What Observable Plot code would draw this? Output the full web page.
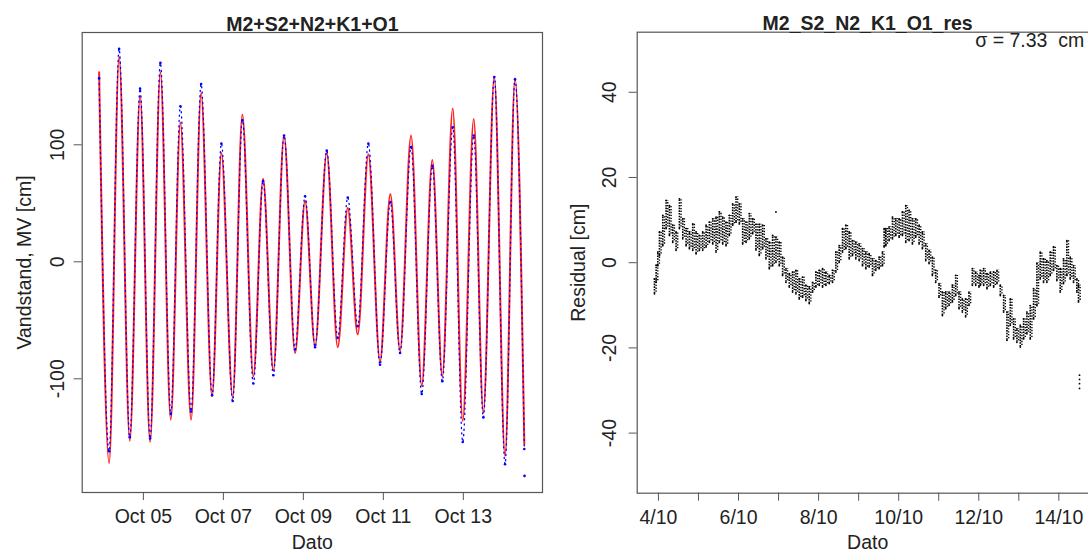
<!DOCTYPE html>
<html><head><meta charset="utf-8">
<script src="https://cdn.jsdelivr.net/npm/d3@7"></script>
<script src="https://cdn.jsdelivr.net/npm/@observablehq/plot@0.6"></script>
<style>
html,body{margin:0;padding:0;background:#fff;overflow:hidden;}
#wrap{position:relative;width:1088px;height:556px;overflow:hidden;background:#fff;}
#left,#right{position:absolute;top:0;}
#left{left:0;width:560px}
#right{left:560px;width:549.6px}
#wrap svg{max-width:none !important;}
</style></head><body>
<div id="wrap"><div id="left"></div><div id="right"></div></div>
<script>
// ---------- data (days are day-of-October, decimal) ----------
const leftTitle = "M2+S2+N2+K1+O1";
const rightTitle = "M2_S2_N2_K1_O1_res";
const leftYLabel = "Vandstand, MV [cm]";
const rightYLabel = "Residual [cm]";
const xLabel = "Dato";
const sigmaText = "σ = 7.33 \u00a0cm";

const leftYTicks = [-100, 0, 100];
const rightYTicks = [-40, -20, 0, 20, 40];
const leftXTickDays = [5, 7, 9, 11, 13];
const rightXTickDays = [4, 5, 6, 7, 8, 9, 10, 11, 12, 13, 14];

// high waters
const hwDay  = [3.893, 4.393, 4.918, 5.425, 5.925, 6.443, 6.95, 7.475, 7.993, 8.518, 9.043, 9.585, 10.11, 10.625, 11.175, 11.693, 12.225, 12.735, 13.26, 13.775, 14.293];
const hwPred = [162, 175, 142, 162, 119, 144, 93, 126, 71, 108, 52, 93, 46, 92, 58, 108, 87, 131, 122, 158, 157];
const hwObs  = [157, 182, 148, 170, 133, 152, 101, 121, 69, 108, 56, 95, 55, 101, 51, 98, 82, 115, 108, 158, 156];
// low waters
const lwDay  = [4.143, 4.66, 5.168, 5.685, 6.193, 6.718, 7.233, 7.75, 8.25, 8.793, 9.293, 9.86, 10.36, 10.918, 11.418, 11.96, 12.475, 12.985, 13.5, 14.043];
const lwPred = [-172, -153, -154, -135, -135, -115, -116, -98, -93, -78, -72, -73, -62, -85, -76, -106, -98, -136, -129, -166];
const lwObs  = [-162, -150, -151, -130, -128, -114, -119, -104, -97, -75, -73, -65, -55, -88, -78, -113, -102, -154, -133, -173];
// last sample
const endDay = [14.525];
const endPred = [-156];
const endObs = [-160];
const obsOutDay = [14.53];
const obsOutVal = [-183];

// residual envelope (low / high of the point cloud)
const resDay = [3.901,3.943,3.984,4.026,4.109,4.192,4.275,4.358,4.441,4.524,4.608,4.691,4.774,4.857,4.940,5.023,5.106,5.190,5.273,5.356,5.439,5.522,5.605,5.688,5.771,5.855,5.938,6.021,6.104,6.187,6.270,6.353,6.436,6.519,
6.603,6.686,6.769,6.852,6.935,7.018,7.101,7.185,7.268,7.351,7.434,7.517,7.600,7.683,7.766,7.850,7.933,8.016,8.099,8.182,8.265,8.348,8.431,8.514,8.598,8.681,8.764,8.847,8.930,9.013,9.097,9.180,9.263,
9.346,9.429,9.512,9.595,9.637,9.678,9.761,9.845,9.928,10.011,10.094,10.177,10.260,10.343,10.426,10.510,10.593,10.676,10.759,10.842,10.925,11.008,11.092,11.175,11.258,11.341,11.424,11.507,11.590,11.673,11.756,11.840,11.923,12.006,
12.039,12.122,12.205,12.289,12.372,12.455,12.538,12.621,12.704,12.787,12.870,12.953,13.037,13.120,13.203,13.286,13.369,13.452,13.535,13.618,13.701,13.785,13.868,13.951,14.034,14.117,14.200,14.284,14.367,14.450,14.491];
const resLo = [-7.3,-4.6,-0.7,1.7,4.0,8.0,6.4,4.8,2.9,8.0,5.6,4.0,3.3,2.9,2.1,2.9,2.9,3.7,4.8,4.4,2.5,4.8,4.4,4.0,6.4,8.8,9.5,9.1,4.4,4.8,5.6,6.8,3.0,1.7,
3.3,0.9,-1.4,-0.7,0.1,-0.7,-3.0,-4.6,-5.7,-6.9,-7.3,-8.5,-8.1,-8.9,-9.6,-6.9,-5.7,-5.3,-5.7,-5.3,-4.9,-4.6,-2.2,0.1,2.5,3.3,0.9,1.7,0.9,0.5,-0.7,-1.4,-1.0,
-3.0,-1.8,-1.4,-0.7,3.7,4.0,5.2,5.6,6.4,6.0,6.4,4.8,5.2,4.4,6.0,4.4,3.3,0.5,-0.2,-3.0,-4.6,-8.1,-12.4,-10.8,-10.0,-9.2,-7.7,-10.8,-11.6,-12.7,-10.0,-5.3,-5.3,-5.7,
-5.3,-5.3,-6.1,-5.3,-5.7,-4.9,-7.7,-11.6,-18.2,-14.7,-17.9,-18.7,-19.8,-17.9,-16.7,-17.9,-13.2,-10.1,-3.8,-4.6,-4.6,-3.0,-1.8,-4.2,-6.9,-4.9,-3.0,-3.8,-4.6,-6.9,-9.2];
const resHi = [-3.8,-0.6,2.5,7.2,11.1,14.6,13.4,8.8,7.2,15.0,10.3,8.0,7.2,9.1,7.2,6.4,7.2,8.8,9.5,10.3,10.7,11.9,10.7,9.5,11.1,13.8,15.4,13.8,10.3,9.5,11.5,10.3,9.0,9.0,
8.8,5.6,4.8,6.4,6.0,4.8,1.3,-1.4,-2.6,-2.2,-1.8,-3.8,-3.4,-5.3,-5.7,-4.6,-2.2,-1.8,-1.4,-2.2,-3.0,-1.8,2.5,4.0,8.0,8.8,7.2,5.2,4.8,4.4,3.3,2.5,2.1,
0.9,0.5,1.3,2.5,8.0,8.0,8.4,10.7,10.3,10.3,11.9,13.4,12.3,10.3,10.3,8.8,7.2,4.4,2.9,1.3,-1.8,-4.9,-6.9,-6.9,-6.9,-5.3,-3.0,-6.9,-8.5,-8.5,-6.9,-1.4,-2.2,-3.0,
-1.8,-1.4,-2.6,-2.2,-2.2,-1.8,-5.3,-7.7,-11.6,-8.5,-13.2,-15.5,-14.7,-13.2,-11.6,-10.1,-6.1,-0.1,2.5,0.9,0.5,2.5,3.7,-0.7,-1.4,0.9,5.2,1.3,-0.7,-3.8,-5.3];
// isolated residual points
const resOutDay = [6.935, 14.516, 14.516, 14.516, 14.516];
const resOutVal = [11.9, -26.4, -27.4, -28.4, -29.5];

// ---------- build tables ----------
const toDate = d => new Date(Date.UTC(2019, 9, 1) + (d - 1) * 864e5);
const rows = (days, vals) => days.map((d, i) => ({t: toDate(d), v: vals[i]}));
const byT = (a, b) => a.t - b.t;
const predRows = [...rows(hwDay, hwPred), ...rows(lwDay, lwPred), ...rows(endDay, endPred)].sort(byT);
const obsRows = [...rows(hwDay, hwObs), ...rows(lwDay, lwObs), ...rows(endDay, endObs)].sort(byT);
const obsExt = [...obsRows, ...rows(obsOutDay, obsOutVal)];
const resRows = resDay.map((d, i) => ({t: toDate(d), lo: resLo[i], hi: resHi[i]}));
const resOut = rows(resOutDay, resOutVal);

const FONT = "'Liberation Sans', Arial, Helvetica, sans-serif";
const FS = 19.5;
const AX = "#555";
const xDomain = [toDate(3.47), toDate(14.98)];
const style = {fontFamily: FONT, fontSize: FS + "px", color: "#222", background: "white", overflow: "visible", maxWidth: "none"};

const left = Plot.plot({
  width: 560, height: 556,
  marginLeft: 81.7, marginRight: 18, marginTop: 32, marginBottom: 64,
  x: {type: "utc", domain: xDomain},
  y: {domain: [-197.2, 196]},
  style,
  marks: [
    Plot.line(predRows, {x: "t", y: "v", curve: "monotone-x", stroke: "#ff2020", strokeWidth: 2}),
    Plot.line(obsRows, {x: "t", y: "v", curve: "monotone-x", stroke: "#0000ff", strokeWidth: 1.3, strokeDasharray: "1.1,4.2"}),
    Plot.dot(obsExt, {x: "t", y: "v", r: 1.3, fill: "#0000ff", stroke: "none"}),
    Plot.frame({stroke: AX, strokeWidth: 1.2}),
    Plot.axisX({anchor: "bottom", label: null, ticks: leftXTickDays.map(toDate), tickFormat: d3.utcFormat("%b %d"), tickSize: 8, tickPadding: 8.7, stroke: AX, fontSize: FS}),
    Plot.axisY({anchor: "left", label: null, ticks: leftYTicks, tickFormat: () => "", tickSize: 8, stroke: AX}),
    Plot.text(leftYTicks, {y: d => d, text: d => String(d), frameAnchor: "left", rotate: -90, textAnchor: "middle", lineAnchor: "bottom", dx: -18.4, fontSize: FS}),
    Plot.text([leftTitle], {text: d => d, frameAnchor: "top", lineAnchor: "bottom", dy: -2, fontWeight: "bold", fontSize: FS}),
    Plot.text([leftYLabel], {text: d => d, frameAnchor: "left", rotate: -90, textAnchor: "middle", lineAnchor: "bottom", dx: -50.7, fontSize: FS}),
    Plot.text([xLabel], {text: d => d, frameAnchor: "bottom", lineAnchor: "bottom", dy: 56, fontSize: FS})
  ]
});
document.getElementById("left").append(left);

const right = Plot.plot({
  width: 549.6, height: 556,
  marginLeft: 76.7, marginRight: 12, marginTop: 31.7, marginBottom: 63.3,
  x: {type: "utc", domain: xDomain},
  y: {domain: [-54.1, 54.1]},
  style,
  marks: [
    Plot.ruleX(resRows, {x: "t", y1: "lo", y2: "hi", stroke: "#000", strokeWidth: 1.6, strokeDasharray: "1.6,1.1"}),
    Plot.ruleX(resRows, {x: "t", y1: "lo", y2: "hi", dx: 1.65, stroke: "#000", strokeWidth: 1.4, strokeDasharray: "1.3,1.6", strokeDashoffset: 1.4}),
    Plot.dot(resRows, {x: "t", y: "lo", r: 0.9, fill: "#000", stroke: "none"}),
    Plot.dot(resRows, {x: "t", y: "hi", r: 0.9, fill: "#000", stroke: "none"}),
    Plot.dot(resOut, {x: "t", y: "v", r: 0.9, fill: "#000", stroke: "none"}),
    Plot.frame({stroke: AX, strokeWidth: 1.2}),
    Plot.axisX({anchor: "bottom", label: null, ticks: rightXTickDays.map(toDate), tickFormat: d => d.getUTCDate() % 2 === 0 ? `${d.getUTCDate()}/10` : "", tickSize: 8, tickPadding: 8.7, stroke: AX, fontSize: FS}),
    Plot.axisY({anchor: "left", label: null, ticks: rightYTicks, tickFormat: () => "", tickSize: 8, stroke: AX}),
    Plot.text(rightYTicks, {y: d => d, text: d => String(d), frameAnchor: "left", rotate: -90, textAnchor: "middle", lineAnchor: "bottom", dx: -21.7, fontSize: FS}),
    Plot.text([rightTitle], {text: d => d, frameAnchor: "top", lineAnchor: "bottom", dy: -2, fontWeight: "bold", fontSize: FS}),
    Plot.text([sigmaText], {text: d => d, frameAnchor: "top-left", textAnchor: "start", lineAnchor: "bottom", dx: 338, dy: 15, fontSize: FS}),
    Plot.text([rightYLabel], {text: d => d, frameAnchor: "left", rotate: -90, textAnchor: "middle", lineAnchor: "bottom", dx: -52.7, fontSize: FS}),
    Plot.text([xLabel], {text: d => d, frameAnchor: "bottom", lineAnchor: "bottom", dy: 56, fontSize: FS})
  ]
});
document.getElementById("right").append(right);
</script>
</body></html>
